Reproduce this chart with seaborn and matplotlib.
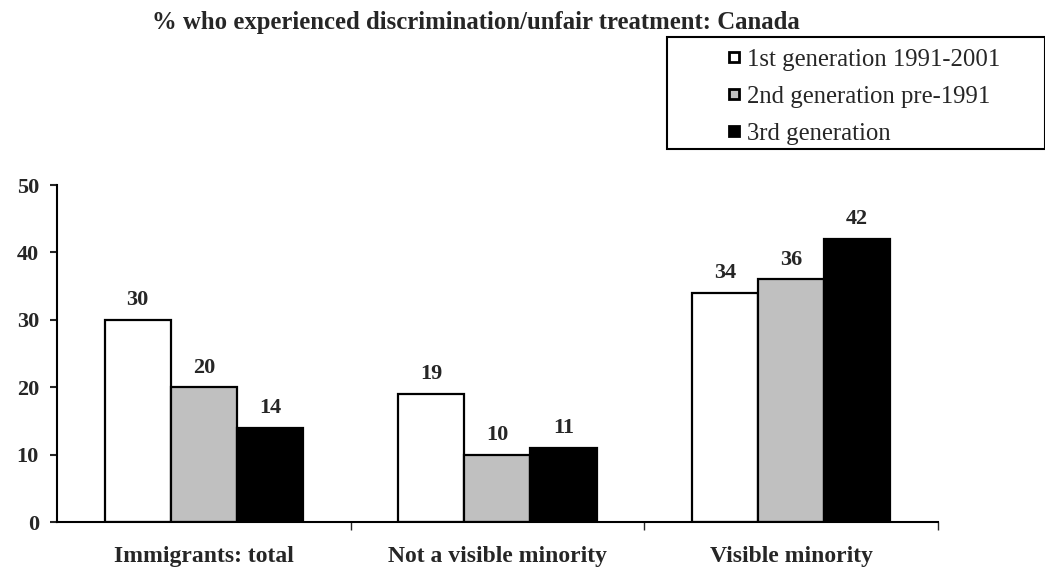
import pandas as pd
import numpy as np
import seaborn as sns
import matplotlib.pyplot as plt
from matplotlib.lines import Line2D
from matplotlib.patches import Rectangle

# values
groups = ["Immigrants: total", "Not a visible minority", "Visible minority"]
generations = ["1st generation 1991-2001", "2nd generation pre-1991", "3rd generation"]
gen1 = [30, 19, 34]
gen2 = [20, 10, 36]
gen3 = [14, 11, 42]
colors = ["white", "#c0c0c0", "black"]

df = pd.DataFrame({
    "group": groups * 3,
    "generation": [g for g in generations for _ in groups],
    "pct": gen1 + gen2 + gen3,
})

sns.set_theme(style="white")
plt.rcParams["font.family"] = ["Liberation Serif", "DejaVu Serif"]

fig = plt.figure(figsize=(10.45, 5.73), dpi=100)
ax = fig.add_axes([0.0545, 0.089, 0.843, 0.588])

sns.barplot(data=df, x="group", y="pct", hue="generation", order=groups,
            hue_order=generations, palette=colors, width=0.675, gap=0,
            edgecolor="black", linewidth=1.6, saturation=1, legend=False, ax=ax)

for cont in ax.containers:
    ax.bar_label(cont, fmt="%d", padding=7, fontsize=16, fontweight="bold")

ax.set_ylim(0, 50)
ax.set_xlim(-0.5, 2.5)
ax.set_yticks([0, 10, 20, 30, 40, 50])
ax.set_xlabel("")
ax.set_ylabel("")
sns.despine(ax=ax)
for s in ["left", "bottom"]:
    ax.spines[s].set_linewidth(1.5)
    ax.spines[s].set_color("black")
ax.tick_params(axis="y", left=True, length=5, width=1.5, direction="out",
               labelsize=16, pad=8)
ax.tick_params(axis="x", bottom=False, labelsize=17, pad=11)
ax.set_xticks([0.5, 1.5, 2.5], minor=True)
ax.tick_params(axis="x", which="minor", bottom=True, length=6, width=1, direction="out")
for lab in ax.get_xticklabels() + ax.get_yticklabels():
    lab.set_fontweight("bold")

fig.text(0.455, 0.9494, "% who experienced discrimination/unfair treatment: Canada",
         ha="center", va="baseline", fontsize=17.8, fontweight="bold")

# legend box
fig.patches.append(Rectangle((0.638, 0.740), 0.362, 0.1955, transform=fig.transFigure,
                             facecolor="white", edgecolor="black", linewidth=1.5))
handles = [Line2D([], [], marker="s", linestyle="", markersize=7.5, markerfacecolor=c,
                  markeredgecolor="black", markeredgewidth=2) for c in colors]
fig.legend(handles, generations, loc="upper left", bbox_to_anchor=(0.680, 0.946),
           frameon=False, fontsize=17.8, handlelength=0.47, handletextpad=0.3,
           labelspacing=0.6, borderpad=0.2)

fig.savefig("out.png", dpi=100)
